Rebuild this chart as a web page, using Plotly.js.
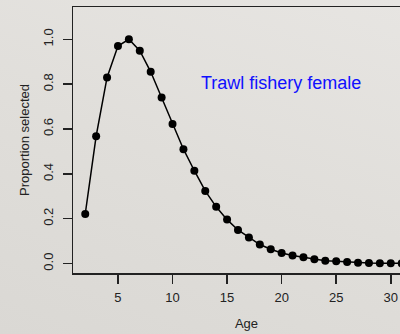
<!DOCTYPE html>
<html>
<head>
<meta charset="utf-8">
<script src="https://cdn.plot.ly/plotly-3.0.1.min.js"></script>
<style>
html,body{margin:0;padding:0;overflow:hidden;width:400px;height:334px;
background:linear-gradient(200deg,#e7e5e2 0%,#e0deda 50%,#dad8d4 100%);}
#chart{width:420px;height:334px;}
</style>
</head>
<body>
<div id="chart"></div>
<script>
const ages = [2,3,4,5,6,7,8,9,10,11,12,13,14,15,16,17,18,19,20,21,22,23,24,25,26,27,28,29,30,31];
const selectivity = [0.221,0.568,0.830,0.970,1.000,0.949,0.855,0.741,0.622,0.510,0.414,0.324,0.253,0.196,0.150,0.116,0.085,0.064,0.047,0.036,0.028,0.019,0.013,0.010,0.007,0.004,0.003,0.002,0.002,0.001];
const xTicks = [5,10,15,20,25,30];
const yTicks = [0,0.2,0.4,0.6,0.8,1.0];
const yTickText = ['0.0','0.2','0.4','0.6','0.8','1.0'];
const label = 'Trawl fishery female';
const labelAge = 12.4;
const labelValue = 0.804;

const font = {family:'Liberation Sans, Arial, sans-serif', size:13, color:'#222'};

Plotly.newPlot('chart', [{
  x: ages, y: selectivity, type:'scatter', mode:'lines+markers',
  line:{color:'#000', width:1.5},
  marker:{color:'#000', size:8},
  cliponaxis:true, hoverinfo:'skip'
}], {
  width:420, height:334,
  margin:{l:73, r:0, t:7, b:61},
  paper_bgcolor:'rgba(0,0,0,0)', plot_bgcolor:'rgba(0,0,0,0)',
  font: font,
  showlegend:false,
  xaxis:{
    range:[0.879, 32.68], tickvals:xTicks, ticktext:xTicks.map(String),
    showgrid:false, zeroline:false, showline:true, mirror:true, linecolor:'#222', linewidth:1.5,
    ticks:'outside', ticklen:9, tickwidth:1.5, tickcolor:'#222', ticklabelstandoff:3,
    title:{text:'Age', font:font, standoff:15}
  },
  yaxis:{
    range:[-0.042, 1.144], tickvals:yTicks, ticktext:yTickText, tickangle:-90,
    showgrid:false, zeroline:false, showline:true, mirror:true, linecolor:'#222', linewidth:1.5,
    ticks:'outside', ticklen:9, tickwidth:1.5, tickcolor:'#222', ticklabelstandoff:4,
    title:{text:'Proportion selected', font:font, standoff:8}
  },
  annotations:[{
    x:labelAge, y:labelValue, xref:'x', yref:'y', text:label, showarrow:false,
    xanchor:'left', yanchor:'middle', font:{family:'Liberation Sans, Arial, sans-serif', size:18, color:'#1010ff'}
  }]
}, {staticPlot:true});
</script>
</body>
</html>
